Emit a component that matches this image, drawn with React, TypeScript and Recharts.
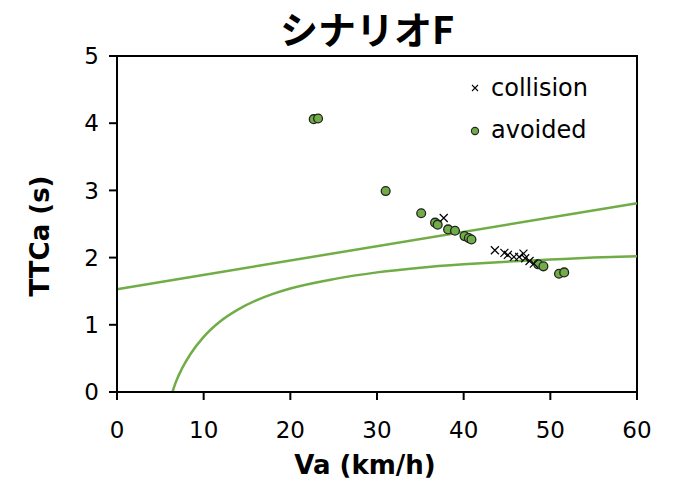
import { ComposedChart, Line, ReferenceArea, Scatter, XAxis, YAxis } from "recharts";

const xTicks = [0, 10, 20, 30, 40, 50, 60];
const yTicks = [0, 1, 2, 3, 4, 5];

// straight boundary
const upperV = [0, 60];
const upperT = [1.53, 2.81];

// curved boundary
const lowerV = [6.4, 6.8, 7.5, 8.5, 10, 12, 14, 16, 18, 20, 25, 30, 35, 40, 45, 50, 55, 60];
const lowerT = [0, 0.15, 0.35, 0.57, 0.82, 1.06, 1.23, 1.36, 1.46, 1.54, 1.68, 1.78, 1.85, 1.9, 1.94, 1.97, 2.0, 2.02];

const collisionV = [37.7, 43.6, 44.7, 45.1, 45.8, 46.4, 46.9, 47.1, 47.6, 48.1];
const collisionT = [2.59, 2.11, 2.07, 2.04, 2.01, 2.01, 2.06, 1.99, 1.95, 1.91];

const avoidedV = [22.7, 23.2, 31.0, 35.1, 36.7, 37.0, 38.2, 39.0, 40.1, 40.6, 40.9, 48.6, 49.2, 51.0, 51.6];
const avoidedT = [4.06, 4.07, 2.99, 2.66, 2.52, 2.49, 2.42, 2.4, 2.32, 2.29, 2.27, 1.9, 1.87, 1.76, 1.78];

const zip = (v: number[], t: number[]) => v.map((x, i) => ({ v: x, t: t[i] }));

const GREEN = "#70AD47";
const FONT = "'DejaVu Sans', Verdana, sans-serif";

const XMark = (props: any) => {
  const { cx, cy } = props;
  const s = 4;
  return (
    <path
      d={`M${cx - s},${cy - s}L${cx + s},${cy + s}M${cx - s},${cy + s}L${cx + s},${cy - s}`}
      stroke="#000"
      strokeWidth={1.2}
      fill="none"
    />
  );
};

const Dot = (props: any) => (
  <circle cx={props.cx} cy={props.cy} r={4.4} fill={GREEN} stroke="#222" strokeWidth={1.3} />
);

export default function App() {
  const tick = { fill: "#000", fontSize: 23, fontFamily: FONT };
  return (
    <div style={{ position: "absolute", left: 0, top: 0, width: 679, height: 482, background: "#fff", overflow: "hidden" }}>
      <div
        style={{
          position: "absolute",
          left: 55,
          width: 624,
          top: 0,
          textAlign: "center",
          fontFamily: "'Noto Sans CJK JP', sans-serif",
          fontWeight: 700,
          fontSize: 38,
          lineHeight: "normal",
        }}
      >
        シナリオF
      </div>
      <ComposedChart width={679} height={482} margin={{ top: 56, right: 42, left: 57, bottom: 30 }}>
        <XAxis
          type="number"
          dataKey="v"
          domain={[0, 60]}
          ticks={xTicks}
          tickSize={8}
          tickMargin={22}
          height={60}
          tick={tick}
          axisLine={{ stroke: "#000", strokeWidth: 2 }}
          tickLine={{ stroke: "#000", strokeWidth: 2 }}
        />
        <YAxis
          type="number"
          dataKey="t"
          domain={[0, 5]}
          ticks={yTicks}
          tickSize={8}
          tickMargin={10}
          width={60}
          tick={tick}
          axisLine={{ stroke: "#000", strokeWidth: 2 }}
          tickLine={{ stroke: "#000", strokeWidth: 2 }}
        />
        <ReferenceArea x1={0} x2={60} y1={0} y2={5} fill="none" stroke="#000" strokeWidth={2} />
        <Line data={zip(upperV, upperT)} dataKey="t" type="linear" dot={false} stroke={GREEN} strokeWidth={2.5} isAnimationActive={false} />
        <Line data={zip(lowerV, lowerT)} dataKey="t" type="monotone" dot={false} stroke={GREEN} strokeWidth={2.5} isAnimationActive={false} />
        <Scatter name="avoided" data={zip(avoidedV, avoidedT)} dataKey="t" shape={Dot} isAnimationActive={false} />
        <Scatter name="collision" data={zip(collisionV, collisionT)} dataKey="t" shape={XMark} isAnimationActive={false} />
      </ComposedChart>
      <div
        style={{
          position: "absolute",
          left: 51,
          width: 628,
          top: 448,
          textAlign: "center",
          fontFamily: FONT,
          fontWeight: 700,
          fontSize: 26,
          lineHeight: "34px",
        }}
      >
        Va (km/h)
      </div>
      <div
        style={{
          position: "absolute",
          left: 40,
          top: 236,
          transform: "translate(-50%, -50%) rotate(-90deg)",
          whiteSpace: "nowrap",
          fontFamily: FONT,
          fontWeight: 700,
          fontSize: 26,
          lineHeight: "32px",
        }}
      >
        TTCa (s)
      </div>
      <div style={{ position: "absolute", left: 468, top: 67, fontFamily: FONT, fontSize: 24, lineHeight: "42px" }}>
        <div style={{ display: "flex", alignItems: "center" }}>
          <svg width={14} height={14} style={{ marginRight: 9 }}>
            <path d="M4,4L10,10M4,10L10,4" stroke="#000" strokeWidth={1.1} />
          </svg>
          collision
        </div>
        <div style={{ display: "flex", alignItems: "center" }}>
          <svg width={14} height={14} style={{ marginRight: 9 }}>
            <circle cx={7} cy={8} r={3.6} fill={GREEN} stroke="#222" strokeWidth={1.1} />
          </svg>
          avoided
        </div>
      </div>
    </div>
  );
}
